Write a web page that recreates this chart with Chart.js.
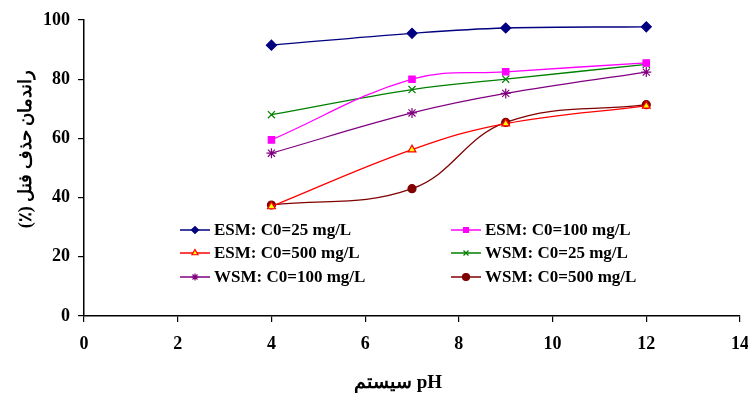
<!DOCTYPE html>
<html>
<head>
<meta charset="utf-8">
<script src="https://cdn.jsdelivr.net/npm/chart.js@4/dist/chart.umd.min.js"></script>
<style>
  html, body { margin: 0; padding: 0; background: #fff; }
  #wrap { width: 748px; height: 401px; }
</style>
</head>
<body>
<div id="wrap"><canvas id="phChart" width="748" height="401"></canvas></div>
<script>
// Données
const phValues = [4, 7, 9, 12];
const esm25 = [91.5, 95.5, 97.3, 97.7];
const esm100 = [59.5, 80, 82.5, 85.5];
const esm500 = [37, 56.2, 65, 71];
const wsm25 = [68, 76.5, 80, 85];
const wsm100 = [55, 68.6, 75.2, 82.4];
const wsm500 = [37.5, 43, 65.4, 71.4];
const seriesLabels = ['ESM: C0=25 mg/L', 'ESM: C0=100 mg/L', 'ESM: C0=500 mg/L',
                      'WSM: C0=25 mg/L', 'WSM: C0=100 mg/L', 'WSM: C0=500 mg/L'];
const xTicks = [0, 2, 4, 6, 8, 10, 12, 14];
const yTicks = [0, 20, 40, 60, 80, 100];
const yTitle = '\u2067راندمان حذف فنل (٪)\u2069';
const xTitle = 'سیستم pH';

const serif = "'Liberation Serif', 'Times New Roman', serif";

function makeSet(label, values, color, style, fill, radius) {
    return {
        label: label,
        data: phValues.map((x, i) => ({ x: x, y: values[i] })),
        showLine: true,
        borderColor: color,
        borderWidth: 1.3,
        pointStyle: style,
        pointRadius: radius,
        pointBackgroundColor: fill,
        pointBorderColor: color,
        pointBorderWidth: 1.2,
        tension: 0.4
    };
}

// Légende sur deux colonnes dans la zone du graphique + titres des axes
const legendPlugin = {
    id: 'twoColLegend',
    afterDatasetsDraw(chart) {
        const ctx = chart.ctx;
        const cols = [180, 451];
        const rows = [230, 253, 277];
        ctx.save();
        chart.data.datasets.forEach((ds, i) => {
            const x = cols[i % 2];
            const y = rows[Math.floor(i / 2)];
            ctx.strokeStyle = ds.borderColor;
            ctx.lineWidth = 1.5;
            ctx.beginPath();
            ctx.moveTo(x, y);
            ctx.lineTo(x + 30, y);
            ctx.stroke();
            ctx.fillStyle = ds.pointBackgroundColor;
            ctx.strokeStyle = ds.pointBorderColor;
            ctx.lineWidth = 1.2;
            Chart.helpers.drawPoint(ctx, {
                pointStyle: ds.pointStyle,
                radius: Math.min(ds.pointRadius, 3.5),
                rotation: 0,
                borderWidth: 1.2
            }, x + 15, y);
            ctx.fillStyle = '#000';
            ctx.font = 'bold 17px ' + serif;
            ctx.textAlign = 'left';
            ctx.textBaseline = 'middle';
            ctx.fillText(ds.label, x + 34, y + 1);
        });
        // titre de l'axe X
        ctx.fillStyle = '#000';
        ctx.font = 'bold 19px ' + serif;
        ctx.textAlign = 'center';
        ctx.textBaseline = 'middle';
        ctx.fillText(xTitle, 398, 383);
        // titre de l'axe Y
        ctx.translate(26, 149);
        ctx.rotate(-Math.PI / 2);
        ctx.font = 'bold 18px ' + serif;
        ctx.fillText(yTitle, 0, 0);
        ctx.restore();
    }
};

function initPhChart() {
    const el = document.getElementById('phChart');
    if (typeof Chart === 'undefined') {
        console.error('Chart.js n\'est pas chargé');
        return;
    }
    new Chart(el, {
        type: 'scatter',
        data: {
            datasets: [
                makeSet(seriesLabels[0], esm25, '#000080', 'rectRot', '#000080', 5),
                makeSet(seriesLabels[1], esm100, '#FF00FF', 'rect', '#FF00FF', 4.5),
                makeSet(seriesLabels[2], esm500, '#FF0000', 'triangle', '#FFFF00', 4.5),
                makeSet(seriesLabels[3], wsm25, '#008000', 'crossRot', '#008000', 5),
                makeSet(seriesLabels[4], wsm100, '#800080', 'star', '#800080', 5),
                makeSet(seriesLabels[5], wsm500, '#800000', 'circle', '#800000', 4)
            ]
        },
        options: {
            responsive: false,
            animation: false,
            devicePixelRatio: 1,
            layout: { padding: { top: 20, right: 8, left: 0, bottom: 0 } },
            plugins: {
                legend: { display: false },
                tooltip: { enabled: false }
            },
            scales: {
                x: {
                    type: 'linear',
                    min: 0, max: 14,
                    afterBuildTicks: (axis) => { axis.ticks = xTicks.map(v => ({ value: v })); },
                    afterFit: (axis) => {
                        axis.height = 85;
                        axis.paddingRight = 0;
                        axis.paddingLeft = 0;
                    },
                    border: { color: '#000', width: 1.5 },
                    grid: { drawOnChartArea: false, color: '#000', tickLength: 6, lineWidth: 1.2 },
                    ticks: { color: '#000', font: { family: serif, size: 18, weight: 'bold' }, padding: 12, maxRotation: 0 }
                },
                y: {
                    min: 0, max: 100,
                    afterBuildTicks: (axis) => { axis.ticks = yTicks.map(v => ({ value: v })); },
                    afterFit: (axis) => { axis.width = 84; },
                    border: { color: '#000', width: 1.5 },
                    grid: { drawOnChartArea: false, color: '#000', tickLength: 6, lineWidth: 1.2 },
                    ticks: { color: '#000', font: { family: serif, size: 18, weight: 'bold' }, padding: 8 }
                }
            }
        },
        plugins: [legendPlugin]
    });
}

document.addEventListener('DOMContentLoaded', initPhChart);
</script>
</body>
</html>
